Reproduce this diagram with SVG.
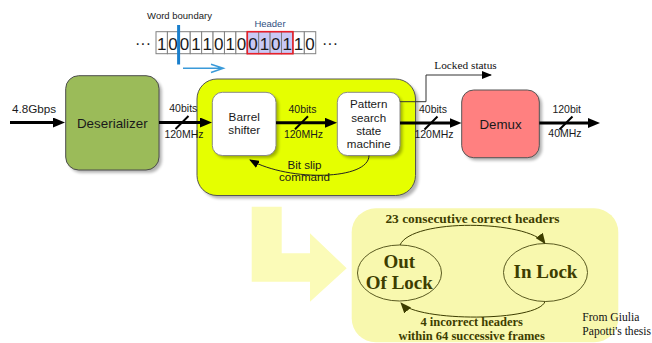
<svg xmlns="http://www.w3.org/2000/svg" width="652" height="343" viewBox="0 0 652 343">
<defs>
<style>
.sans{font-family:"Liberation Sans",Arial,sans-serif;fill:#1a1a1a}
.serif{font-family:"Liberation Serif","Times New Roman",serif;fill:#111}
.sm{font-family:"Liberation Serif","Times New Roman",serif;font-weight:bold;fill:#3d3d00;text-anchor:middle}
.cell{fill:#fff;stroke:#808080;stroke-width:1}
.hcell{fill:#c9c9f5;stroke:#808080;stroke-width:1}
.digit{font-family:"Liberation Sans",Arial,sans-serif;font-size:17px;text-anchor:middle;fill:#1a1a1a}
.bus{stroke:#000;stroke-width:3;fill:none}
.slash{stroke:#000;stroke-width:2}
.lbl{font-family:"Liberation Sans",Arial,sans-serif;font-size:10.5px;text-anchor:middle;fill:#1a1a1a}
.blk{font-family:"Liberation Sans",Arial,sans-serif;text-anchor:middle;fill:#1a1a1a}
.shadow{fill:#000;opacity:0.3}
.smline{stroke:#3d3d00;stroke-width:1;fill:none}
</style>
<filter id="blur" x="-20%" y="-20%" width="140%" height="140%"><feGaussianBlur stdDeviation="1.5"/></filter>
<marker id="ah" viewBox="0 0 12 10" refX="6" refY="5" markerWidth="12" markerHeight="10" markerUnits="userSpaceOnUse" orient="auto"><path d="M0,0 L12,5 L0,10 z" fill="#000"/></marker>
<marker id="ahs" viewBox="0 0 10 8" refX="9" refY="4" markerWidth="10" markerHeight="8" markerUnits="userSpaceOnUse" orient="auto"><path d="M0,0 L10,4 L0,8 z" fill="#000"/></marker>
<marker id="ahd" viewBox="0 0 11 9" refX="10" refY="4.5" markerWidth="11" markerHeight="9" markerUnits="userSpaceOnUse" orient="auto"><path d="M0,0 L11,4.5 L0,9 z" fill="#3d3d00"/></marker>
</defs>
<rect width="652" height="343" fill="#fff"/>

<!-- bit stream -->
<g id="bitstream">
<text x="179.5" y="19" class="sans" font-size="9.5" text-anchor="middle" fill="#333">Word boundary</text>
<text x="270" y="26.5" class="sans" font-size="9.5" text-anchor="middle" style="fill:#2f4f7f">Header</text>
<text x="135" y="49" class="sans" font-size="16">···</text>
<text x="322" y="49" class="sans" font-size="16">···</text>
<rect class="cell" x="156" y="31.7" width="11.41" height="22"/>
<rect class="cell" x="167.41" y="31.7" width="11.41" height="22"/>
<rect class="cell" x="178.82" y="31.7" width="11.41" height="22"/>
<rect class="cell" x="190.23" y="31.7" width="11.41" height="22"/>
<rect class="cell" x="201.64" y="31.7" width="11.41" height="22"/>
<rect class="cell" x="213.05" y="31.7" width="11.41" height="22"/>
<rect class="cell" x="224.46" y="31.7" width="11.41" height="22"/>
<rect class="cell" x="235.87" y="31.7" width="11.41" height="22"/>
<rect class="hcell" x="247.28" y="31.7" width="11.41" height="22"/>
<rect class="hcell" x="258.69" y="31.7" width="11.41" height="22"/>
<rect class="hcell" x="270.1" y="31.7" width="11.41" height="22"/>
<rect class="hcell" x="281.51" y="31.7" width="11.41" height="22"/>
<rect class="cell" x="292.92" y="31.7" width="11.41" height="22"/>
<rect class="cell" x="304.33" y="31.7" width="11.41" height="22"/>
<rect x="247.28" y="31.7" width="45.64" height="22" fill="none" stroke="#e8202a" stroke-width="1.6"/>
<text class="digit" x="161.7" y="49.5">1</text>
<text class="digit" x="173.1" y="49.5">0</text>
<text class="digit" x="184.5" y="49.5">0</text>
<text class="digit" x="195.9" y="49.5">1</text>
<text class="digit" x="207.3" y="49.5">1</text>
<text class="digit" x="218.8" y="49.5">0</text>
<text class="digit" x="230.2" y="49.5">1</text>
<text class="digit" x="241.6" y="49.5">0</text>
<text class="digit" x="253.0" y="49.5">0</text>
<text class="digit" x="264.4" y="49.5">1</text>
<text class="digit" x="275.8" y="49.5">0</text>
<text class="digit" x="287.2" y="49.5">1</text>
<text class="digit" x="298.6" y="49.5">1</text>
<text class="digit" x="310.0" y="49.5">0</text>
<line x1="178.6" y1="25" x2="178.6" y2="64.5" stroke="#1a7fcc" stroke-width="3"/>
<path d="M183,68.3 H223 M211,64.3 L223.3,68.3 L211,72.5" fill="none" stroke="#3a9ad9" stroke-width="1.5"/>
</g>

<!-- big state-machine background and L arrow -->
<g id="bigarrow">
<polygon points="251.7,206.7 281.7,206.7 281.7,253.3 310,253.3 310,233.3 346.7,268.3 310,301.7 310,281.7 251.7,281.7" fill="#fbfbb8"/>
</g>
<g id="fsm-bg">
<rect x="351.7" y="208.3" width="266.6" height="134" rx="24" fill="#f8f8ae"/>
</g>

<!-- nodes -->
<g id="deserializer">
<rect class="shadow" filter="url(#blur)" x="68.5" y="78.5" width="93.3" height="94.3" rx="13"/>
<rect x="65.7" y="75.7" width="93.3" height="94.3" rx="13" fill="#9bbb59" stroke="#4d4d4d" stroke-width="1"/>
<text class="blk" x="112.3" y="127.5" font-size="13.4">Deserializer</text>
</g>

<g id="sync-block">
<rect class="shadow" filter="url(#blur)" x="200" y="82" width="218.5" height="116.5" rx="20"/>
<rect x="197" y="79" width="218.5" height="116.5" rx="20" fill="#e5ff00" stroke="#555" stroke-width="1"/>
</g>

<g id="barrel">
<rect class="shadow" filter="url(#blur)" x="214.8" y="94.8" width="63.7" height="63.2" rx="10"/>
<rect x="212.3" y="92.3" width="63.7" height="63.2" rx="10" fill="#fff" stroke="#8a8a8a" stroke-width="1"/>
<text class="blk" x="244.2" y="121" font-size="11.7">Barrel</text>
<text class="blk" x="244.2" y="134" font-size="11.7">shifter</text>
</g>

<g id="pattern">
<rect class="shadow" filter="url(#blur)" x="339.8" y="94.8" width="62.7" height="63.2" rx="10"/>
<rect x="337.3" y="92.3" width="62.7" height="63.2" rx="10" fill="#fff" stroke="#8a8a8a" stroke-width="1"/>
<text class="blk" x="368.7" y="108.3" font-size="11.6">Pattern</text>
<text class="blk" x="368.7" y="121.6" font-size="11.6">search</text>
<text class="blk" x="368.7" y="134.9" font-size="11.6">state</text>
<text class="blk" x="368.7" y="148.2" font-size="11.6">machine</text>
</g>

<g id="demux">
<rect class="shadow" filter="url(#blur)" x="464.5" y="92.8" width="77.6" height="67.7" rx="12"/>
<rect x="461.7" y="90" width="77.6" height="67.7" rx="12" fill="#ff8080" stroke="#555" stroke-width="1"/>
<text class="blk" x="500.5" y="128.5" font-size="13.3">Demux</text>
</g>

<g id="out-of-lock">
<ellipse cx="399.5" cy="273" rx="42" ry="28" fill="none" stroke="#5a5a20" stroke-width="1"/>
<text class="sm" x="399.3" y="268.3" font-size="19">Out</text>
<text class="sm" x="399.3" y="288.5" font-size="19">Of Lock</text>
</g>

<g id="in-lock">
<ellipse cx="545.5" cy="272.5" rx="42" ry="29" fill="none" stroke="#5a5a20" stroke-width="1"/>
<text class="sm" x="545.5" y="278.3" font-size="19">In Lock</text>
</g>

<!-- connectors -->
<g id="connectors">
<line class="bus" x1="10" y1="122.5" x2="59" y2="122.5" marker-end="url(#ah)"/>
<line class="bus" x1="159" y1="122.5" x2="206" y2="122.5" marker-end="url(#ah)"/>
<line class="bus" x1="276" y1="122.8" x2="331" y2="122.8" marker-end="url(#ah)"/>
<line class="bus" x1="400" y1="123" x2="455.5" y2="123" marker-end="url(#ah)"/>
<line class="bus" x1="539.3" y1="123" x2="594" y2="123" marker-end="url(#ah)"/>
<line class="slash" x1="175.5" y1="129" x2="188.5" y2="116"/>
<line class="slash" x1="295" y1="129.3" x2="308" y2="116.3"/>
<line class="slash" x1="424.5" y1="129.5" x2="437.5" y2="116.5"/>
<line class="slash" x1="559.5" y1="129.5" x2="572.5" y2="116.5"/>
<path d="M400,101.7 H426 V75 H491" fill="none" stroke="#333" stroke-width="1" marker-end="url(#ahs)"/>
<path d="M369,155.5 C369,180 290,182 250,160" fill="none" stroke="#222" stroke-width="1" marker-end="url(#ahs)"/>
<path class="smline" d="M400,245 C412,218 528,220 545,243.5" marker-end="url(#ahd)"/>
<path class="smline" d="M545,301.5 C538,322 418,322 401,303" marker-end="url(#ahd)"/>
</g>

<!-- labels -->
<g id="labels">
<text class="sans" x="12" y="113" font-size="11.7">4.8Gbps</text>
<text class="lbl" x="183.3" y="112.3">40bits</text>
<text class="lbl" x="184" y="137.5">120MHz</text>
<text class="lbl" x="302.5" y="112.5">40bits</text>
<text class="lbl" x="303.5" y="137.5">120MHz</text>
<text class="lbl" x="433" y="113">40bits</text>
<text class="lbl" x="434" y="137.8">120MHz</text>
<text class="lbl" x="566.7" y="113.3">120bit</text>
<text class="lbl" x="565" y="137">40MHz</text>
<text class="blk" x="304.5" y="169" font-size="11.6">Bit slip</text>
<text class="blk" x="304.5" y="181" font-size="11.6">command</text>
<text class="serif" x="434.3" y="69" font-size="11.3">Locked status</text>
<text class="sm" x="472.5" y="222.7" font-size="13.4">23 consecutive correct headers</text>
<text class="sm" x="471.7" y="325.8" font-size="12.5">4 incorrect headers</text>
<text class="sm" x="471.7" y="340" font-size="12.5">within 64 successive frames</text>
<text class="serif" x="582.3" y="320.7" font-size="11.6">From Giulia</text>
<text class="serif" x="582.3" y="335" font-size="11.6">Papotti's thesis</text>
</g>
</svg>
